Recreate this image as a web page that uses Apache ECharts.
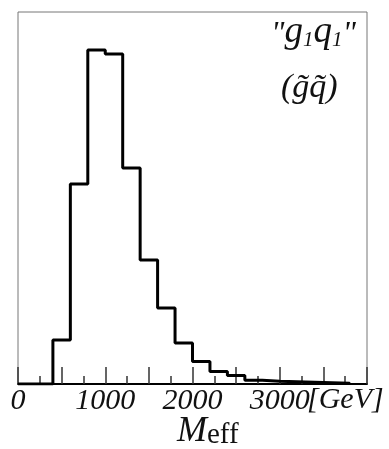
<!DOCTYPE html>
<html>
<head>
<meta charset="utf-8">
<script src="https://cdn.jsdelivr.net/npm/echarts@6/dist/echarts.min.js"></script>
<style>
  html, body { margin: 0; padding: 0; background: #fff; }
  #chart { width: 389px; height: 449px; }
</style>
</head>
<body>
<div id="chart"></div>
<script>
// bin left edges (GeV), last entry closes the final bin
const binEdges = [0, 400, 600, 800, 1000, 1200, 1400, 1600, 1800, 2000, 2200, 2400, 2600, 2800, 3000, 3800];
// bin heights (arbitrary units), last one closes the step back to zero
const binCounts = [0, 44, 200, 334, 330, 216, 124, 76, 41, 22.5, 12.5, 8.5, 3.7, 2.7, 0.8, 0];
// which tick labels are written under the axis
const tickLabels = [0, 1000, 2000, 3000];

const serif = '"Liberation Serif", "DejaVu Serif", serif';

const chart = echarts.init(document.getElementById('chart'));

const option = {
  animation: false,
  grid: {
    left: 18,
    right: 22,
    top: 12,
    bottom: 65,
    show: true,
    borderColor: '#777',
    borderWidth: 1
  },
  xAxis: {
    type: 'value',
    min: 0,
    max: 4000,
    interval: 500,
    axisLine: { lineStyle: { color: '#000', width: 2 } },
    axisTick: { show: true, inside: true, length: 17, lineStyle: { color: '#333', width: 1.5 } },
    minorTick: { show: true, splitNumber: 2, length: 8, lineStyle: { color: '#333', width: 1.5 } },
    splitLine: { show: false },
    axisLabel: {
      margin: 2,
      fontFamily: serif,
      fontStyle: 'italic',
      fontSize: 30,
      color: '#111',
      showMaxLabel: false,
      formatter: v => (tickLabels.indexOf(v) >= 0 ? String(v) : '')
    }
  },
  yAxis: {
    type: 'value',
    min: 0,
    max: 372,
    axisLine: { show: false },
    axisTick: { show: false },
    axisLabel: { show: false },
    splitLine: { show: false }
  },
  graphic: [
    {
      type: 'text',
      left: 307,
      top: 385,
      style: {
        text: '[GeV]',
        font: 'italic 30px ' + serif,
        fill: '#111'
      }
    },
    {
      type: 'text',
      left: 177,
      top: 414,
      style: {
        text: '{m|M}{e|eff}',
        rich: {
          m: { font: 'italic 36px ' + serif, fill: '#111', verticalAlign: 'bottom', lineHeight: 38 },
          e: { font: '29px ' + serif, fill: '#111', verticalAlign: 'bottom', lineHeight: 38 }
        }
      }
    },
    {
      type: 'text',
      left: 271,
      top: 14,
      style: {
        text: '{q|"}{g|g}{s|1}{g|q}{s|1}{q|"}',
        rich: {
          q: { font: 'italic 32px ' + serif, fill: '#111', verticalAlign: 'bottom', lineHeight: 46 },
          g: { font: 'italic 37px ' + serif, fill: '#111', verticalAlign: 'bottom', lineHeight: 46 },
          s: { font: 'italic 21px ' + serif, fill: '#111', verticalAlign: 'bottom', lineHeight: 40 }
        }
      }
    },
    {
      type: 'text',
      left: 281,
      top: 71,
      style: {
        text: '(g\u0303q\u0303)',
        font: 'italic 34px ' + serif,
        fill: '#111'
      }
    }
  ],
  series: [
    {
      type: 'line',
      step: 'end',
      symbol: 'none',
      lineStyle: { color: '#000', width: 3 },
      data: binEdges.map((e, i) => [e, binCounts[i]])
    }
  ]
};

chart.setOption(option);
</script>
</body>
</html>
